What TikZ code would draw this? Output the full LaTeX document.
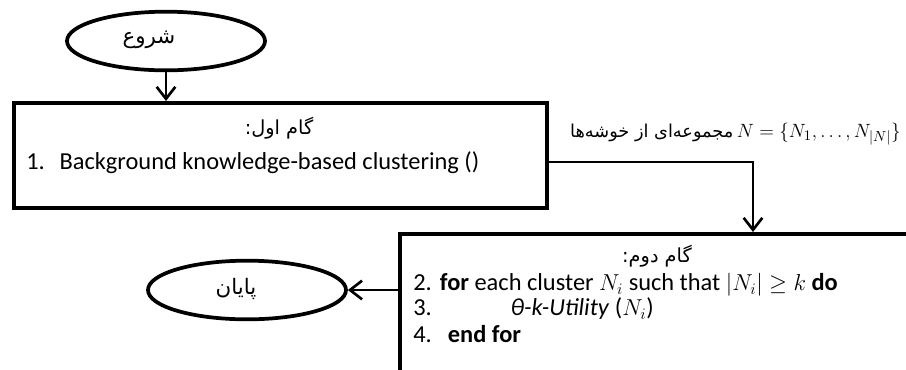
\documentclass[tikz,border=0pt]{standalone}
\usepackage{amsmath}
\usepackage{amssymb}
\usepackage{fontspec}
\setmainfont{Carlito}
\newfontfamily\arabicfont[Script=Arabic]{DejaVu Sans}
\TeXXeTstate=1
\usetikzlibrary{shapes.geometric,arrows.meta,positioning}

\tikzset{
  term/.style={ellipse,draw,line width=2.8pt,inner sep=0pt,minimum width=148.5pt,minimum height=44pt},
  stepbox/.style={rectangle,draw,line width=2.8pt,anchor=north west,inner sep=0pt},
  flow/.style={line width=2pt,-{Straight Barb[length=9pt,width=14pt,line width=2pt]}},
  row/.style={anchor=west,inner sep=0pt,font=\fontsize{18.3}{22}\selectfont},
  title/.style={inner sep=0pt,font=\fontsize{14.5}{16}\arabicfont},
  termtext/.style={inner sep=0pt,font=\fontsize{16}{18}\arabicfont}
}

\begin{document}
\begin{tikzpicture}[x=0.75pt,y=-0.75pt]
  \clip (0,0) rectangle (906,369);
  % start and step one
  \node[term] (start) at (166,41) {};
  \node[termtext] (starttext) at (149,40) {\beginR شروع\endR};
  \node[stepbox,minimum width=399.75pt,minimum height=78.75pt] (box1) at (12,101) {};
  \node[title] (t1) at (279,128) {\beginR گام اول:\endR};
  \node[row] (r1) at (26,163) {\makebox[25pt][l]{1.}Background knowledge-based clustering ()};
  \coordinate (j) at (753,162);
  \node[anchor=east,inner sep=0pt,font=\fontsize{15.8}{17}\selectfont] (lab) at (901,134)
    {{\fontsize{13.3}{15}\arabicfont\beginR مجموعه‌ای از خوشه‌ها\endR}\,$N=\{N_1,\ldots,N_{|N|}\}$};
  % step two and end
  \node[stepbox,minimum width=388.5pt,minimum height=112pt] (box2) at (398,232) {};
  \node[title] (t2) at (657,256) {\beginR گام دوم:\endR};
  \node[row] (r2) at (413,285) {\makebox[20pt][l]{2.}\textbf{for} each cluster $N_i$ such that $|N_i|\geq k$ \textbf{do}};
  \node[row] (r3) at (413,309) {\makebox[73pt][l]{3.}\textit{θ-k-Utility} ($N_i$)};
  \node[row] (r4) at (413,334) {\makebox[26pt][l]{4.}\textbf{end for}};
  \node[term] (stop) at (247,290) {};
  \node[termtext] (stoptext) at (236,289) {\beginR پایان\endR};
  \draw[flow] (start.south) -- (start.south |- box1.north);
  \draw[flow] (box1.east |- j) -- (j) -- (j |- box2.north);
  \draw[flow] (box2.west |- stop) -- (stop.east);
\end{tikzpicture}
\end{document}
